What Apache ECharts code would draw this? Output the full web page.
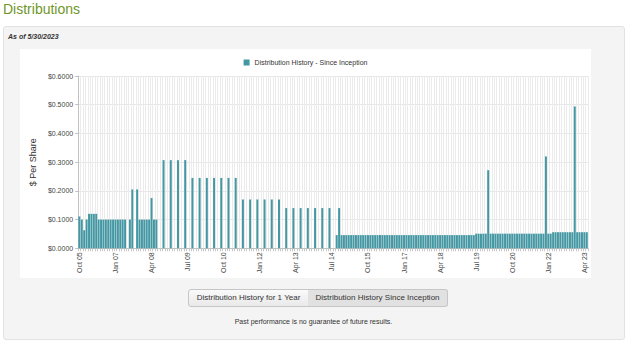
<!DOCTYPE html>
<html>
<head>
<meta charset="utf-8">
<script src="https://cdn.jsdelivr.net/npm/echarts@6/dist/echarts.min.js"></script>
<style>
  html, body { margin:0; padding:0; background:#fff; width:640px; height:345px; overflow:hidden; font-family:"Liberation Sans", Arial, sans-serif; }
  #title { position:absolute; left:3px; top:1px; font-size:14px; color:#70962a; }
  #panel { position:absolute; left:3px; top:26px; width:620px; height:312px; background:#f4f4f4; border:1px solid #e2e2e2; border-radius:3px; }
  #asof { position:absolute; left:8px; top:33px; font-size:7px; font-style:italic; font-weight:bold; color:#333; }
  #chart { position:absolute; left:20px; top:49px; width:571px; height:229px; background:#fff; }
  .btn { position:absolute; top:289px; height:16px; line-height:16px; font-size:8px; color:#333; text-align:center; border:1px solid #c6c6c6; box-sizing:content-box; }
  #b1 { left:188px; width:119px; background:linear-gradient(#fafafa,#e9e9e9); border-radius:3px 0 0 3px; }
  #b2 { left:308px; width:139px; background:#e1e1e1; border-left:none; border-radius:0 3px 3px 0; }
  #foot { position:absolute; left:0; width:627px; top:318px; text-align:center; font-size:7px; color:#333; }
</style>
</head>
<body>
<div id="title">Distributions</div>
<div id="panel"></div>
<div id="asof">As of 5/30/2023</div>
<div id="chart"></div>
<div class="btn" id="b1">Distribution History for 1 Year</div>
<div class="btn" id="b2">Distribution History Since Inception</div>
<div id="foot">Past performance is no guarantee of future results.</div>
<script>
const categories = [
  "Oct 05","Nov 05","Dec 05",
  "Jan 06","Feb 06","Mar 06","Apr 06","May 06","Jun 06","Jul 06","Aug 06","Sep 06","Oct 06","Nov 06","Dec 06",
  "Jan 07","Feb 07","Mar 07","Apr 07","May 07","Jun 07","Jul 07","Aug 07","Sep 07","Oct 07","Nov 07","Dec 07",
  "Jan 08","Feb 08","Mar 08","Apr 08","May 08","Jun 08","Jul 08","Aug 08","Sep 08","Oct 08","Nov 08","Dec 08",
  "Jan 09","Feb 09","Mar 09","Apr 09","May 09","Jun 09","Jul 09","Aug 09","Sep 09","Oct 09","Nov 09","Dec 09",
  "Jan 10","Feb 10","Mar 10","Apr 10","May 10","Jun 10","Jul 10","Aug 10","Sep 10","Oct 10","Nov 10","Dec 10",
  "Jan 11","Feb 11","Mar 11","Apr 11","May 11","Jun 11","Jul 11","Aug 11","Sep 11","Oct 11","Nov 11","Dec 11",
  "Jan 12","Feb 12","Mar 12","Apr 12","May 12","Jun 12","Jul 12","Aug 12","Sep 12","Oct 12","Nov 12","Dec 12",
  "Jan 13","Feb 13","Mar 13","Apr 13","May 13","Jun 13","Jul 13","Aug 13","Sep 13","Oct 13","Nov 13","Dec 13",
  "Jan 14","Feb 14","Mar 14","Apr 14","May 14","Jun 14","Jul 14","Aug 14","Sep 14","Oct 14","Nov 14","Dec 14",
  "Jan 15","Feb 15","Mar 15","Apr 15","May 15","Jun 15","Jul 15","Aug 15","Sep 15","Oct 15","Nov 15","Dec 15",
  "Jan 16","Feb 16","Mar 16","Apr 16","May 16","Jun 16","Jul 16","Aug 16","Sep 16","Oct 16","Nov 16","Dec 16",
  "Jan 17","Feb 17","Mar 17","Apr 17","May 17","Jun 17","Jul 17","Aug 17","Sep 17","Oct 17","Nov 17","Dec 17",
  "Jan 18","Feb 18","Mar 18","Apr 18","May 18","Jun 18","Jul 18","Aug 18","Sep 18","Oct 18","Nov 18","Dec 18",
  "Jan 19","Feb 19","Mar 19","Apr 19","May 19","Jun 19","Jul 19","Aug 19","Sep 19","Oct 19","Nov 19","Dec 19",
  "Jan 20","Feb 20","Mar 20","Apr 20","May 20","Jun 20","Jul 20","Aug 20","Sep 20","Oct 20","Nov 20","Dec 20",
  "Jan 21","Feb 21","Mar 21","Apr 21","May 21","Jun 21","Jul 21","Aug 21","Sep 21","Oct 21","Nov 21","Dec 21",
  "Jan 22","Feb 22","Mar 22","Apr 22","May 22","Jun 22","Jul 22","Aug 22","Sep 22","Oct 22","Nov 22","Dec 22",
  "Jan 23","Feb 23","Mar 23","Apr 23","May 23"
];
const n = null;
const distributions = [
  0.111,0.100,0.063,
  0.100,0.120,0.120,0.120,0.120,0.100,0.100,0.100,0.100,0.100,0.100,0.100,
  0.100,0.100,0.100,0.100,0.100,n,0.100,0.205,n,0.205,0.100,0.100,
  0.100,0.100,0.100,0.175,0.100,0.100,n,n,0.307,n,n,0.307,
  n,n,0.307,n,n,0.307,n,n,0.245,n,n,0.245,
  n,n,0.245,n,n,0.245,n,n,0.245,n,n,0.245,
  n,n,0.245,n,n,0.170,n,n,0.170,n,n,0.170,
  n,n,0.170,n,n,0.170,n,n,0.170,n,n,0.140,
  n,n,0.140,n,n,0.140,n,n,0.140,n,n,0.140,
  n,n,0.140,n,n,0.140,n,n,0.046,0.140,0.046,0.046,
  0.046,0.046,0.046,0.046,0.046,0.046,0.046,0.046,0.046,0.046,0.046,0.046,
  0.046,0.046,0.046,0.046,0.046,0.046,0.046,0.046,0.046,0.046,0.046,0.046,
  0.046,0.046,0.046,0.046,0.046,0.046,0.046,0.046,0.046,0.046,0.046,0.046,
  0.046,0.046,0.046,0.046,0.046,0.046,0.046,0.046,0.046,0.046,0.046,0.046,
  0.046,0.046,0.046,0.046,0.046,0.046,0.051,0.051,0.051,0.051,0.051,0.272,
  0.051,0.051,0.051,0.051,0.051,0.051,0.051,0.051,0.051,0.051,0.051,0.051,
  0.051,0.051,0.051,0.051,0.051,0.051,0.051,0.051,0.051,0.051,0.051,0.320,
  0.051,0.051,0.056,0.056,0.056,0.056,0.056,0.056,0.056,0.056,0.056,0.494,
  0.056,0.056,0.056,0.056,0.056
];
const yTicks = [0, 0.1, 0.2, 0.3, 0.4, 0.5, 0.6];
const seriesName = "Distribution History - Since Inception";

const chart = echarts.init(document.getElementById('chart'), null, { renderer: 'svg' });
chart.setOption({
  animation: false,
  textStyle: { fontFamily: '"Liberation Sans", Arial, sans-serif' },
  legend: {
    data: [seriesName], top: 5, left: 'center',
    icon: 'rect', itemWidth: 6, itemHeight: 6, itemGap: 4,
    textStyle: { fontSize: 7, color: '#333' }
  },
  grid: { left: 50.6, top: 27, width: 517.4, height: 172.3, containLabel: false },
  xAxis: {
    type: 'category', data: categories, boundaryGap: true,
    axisLine: { lineStyle: { color: '#c0c0c0' } },
    axisTick: { show: true, interval: 0, length: 3, lineStyle: { color: '#c8c8c8' } },
    axisLabel: { interval: 14, rotate: 90, fontSize: 7, color: '#444', margin: 4 },
    splitLine: { show: true, interval: 0, lineStyle: { color: '#ebebeb', width: 1 } }
  },
  yAxis: {
    type: 'value', min: yTicks[0], max: yTicks[yTicks.length - 1], interval: 0.1,
    name: '$ Per Share', nameLocation: 'middle', nameGap: 34, nameRotate: 90,
    nameTextStyle: { fontSize: 9, color: '#333' },
    axisLine: { show: true, lineStyle: { color: '#c0c0c0' } },
    axisTick: { show: true, length: 3, lineStyle: { color: '#c0c0c0' } },
    axisLabel: { fontSize: 7, color: '#444', margin: 5, formatter: v => '$' + v.toFixed(4) },
    splitLine: { show: true, lineStyle: { color: '#e6e6e6' } }
  },
  series: [{
    name: seriesName, type: 'bar', data: distributions,
    barWidth: '82%', itemStyle: { color: '#4398a4' }
  }]
});
</script>
</body>
</html>
